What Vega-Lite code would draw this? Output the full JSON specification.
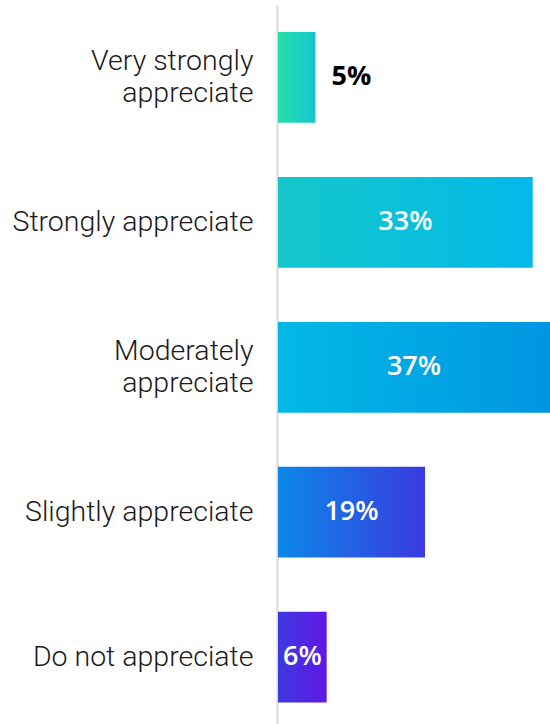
{
  "$schema": "https://vega.github.io/schema/vega-lite/v6.json",
  "autosize": "none",
  "padding": {"left": 278, "top": 5, "right": 0, "bottom": 0},
  "width": 272,
  "height": 719,
  "background": "white",
  "config": {"view": {"stroke": null}},
  "data": {
    "values": [
      {"category": "Very strongly appreciate", "value": 5.1, "label": "5%"},
      {"category": "Strongly appreciate", "value": 34.65, "label": "33%"},
      {"category": "Moderately appreciate", "value": 37, "label": "37%"},
      {"category": "Slightly appreciate", "value": 20, "label": "19%"},
      {"category": "Do not appreciate", "value": 6.62, "label": "6%"}
    ]
  },
  "encoding": {
    "y": {
      "field": "category",
      "type": "nominal",
      "sort": null,
      "scale": {"paddingInner": 0.3737, "paddingOuter": 0.168, "align": 0.557},
      "axis": {
        "title": null,
        "ticks": false,
        "offset": 1,
        "domainColor": "#d9d9d9",
        "domainWidth": 2,
        "labelFont": "Roboto",
        "labelFontSize": 28.5,
        "labelFontWeight": 300,
        "labelColor": "#1a1a1a",
        "labelPadding": 24,
        "labelLineHeight": 32,
        "labelLimit": 300,
        "labelOffset": {"condition": {"test": "datum.value == 'Very strongly appreciate' || datum.value == 'Moderately appreciate'", "value": -16}, "value": 0},
        "labelExpr": "datum.label == 'Very strongly appreciate' ? ['Very strongly', 'appreciate'] : datum.label == 'Moderately appreciate' ? ['Moderately', 'appreciate'] : datum.label"
      }
    },
    "x": {
      "field": "value",
      "type": "quantitative",
      "scale": {"domain": [0, 37], "nice": false},
      "axis": null
    }
  },
  "layer": [
    {
      "transform": [{"filter": "datum.category == 'Very strongly appreciate'"}],
      "mark": {"type": "bar", "color": {"gradient": "linear", "x1": 0, "y1": 0, "x2": 1, "y2": 0, "stops": [{"offset": 0, "color": "#27dea6"}, {"offset": 1, "color": "#13c7cf"}]}}
    },
    {
      "transform": [{"filter": "datum.category == 'Strongly appreciate'"}],
      "mark": {"type": "bar", "color": {"gradient": "linear", "x1": 0, "y1": 0, "x2": 1, "y2": 0, "stops": [{"offset": 0, "color": "#15c7cb"}, {"offset": 1, "color": "#03b9e9"}]}}
    },
    {
      "transform": [{"filter": "datum.category == 'Moderately appreciate'"}],
      "mark": {"type": "bar", "color": {"gradient": "linear", "x1": 0, "y1": 0, "x2": 1, "y2": 0, "stops": [{"offset": 0, "color": "#02b9e6"}, {"offset": 1, "color": "#0096e2"}]}}
    },
    {
      "transform": [{"filter": "datum.category == 'Slightly appreciate'"}],
      "mark": {"type": "bar", "color": {"gradient": "linear", "x1": 0, "y1": 0, "x2": 1, "y2": 0, "stops": [{"offset": 0, "color": "#0b88e8"}, {"offset": 1, "color": "#3a3adf"}]}}
    },
    {
      "transform": [{"filter": "datum.category == 'Do not appreciate'"}],
      "mark": {"type": "bar", "color": {"gradient": "linear", "x1": 0, "y1": 0, "x2": 1, "y2": 0, "stops": [{"offset": 0, "color": "#3c3ae0"}, {"offset": 1, "color": "#6118e5"}]}}
    },
    {
      "transform": [{"filter": "datum.value >= 6"}, {"calculate": "datum.value / 2", "as": "mid"}],
      "mark": {"type": "text", "color": "white", "font": "Open Sans", "fontSize": 27, "fontWeight": 600, "align": "center", "baseline": "middle"},
      "encoding": {
        "x": {"field": "mid", "type": "quantitative"},
        "text": {"field": "label"}
      }
    },
    {
      "transform": [{"filter": "datum.value < 6"}],
      "mark": {"type": "text", "color": "black", "font": "Open Sans", "fontSize": 27, "fontWeight": "bold", "align": "left", "baseline": "middle", "dx": 16},
      "encoding": {
        "text": {"field": "label"}
      }
    }
  ]
}
